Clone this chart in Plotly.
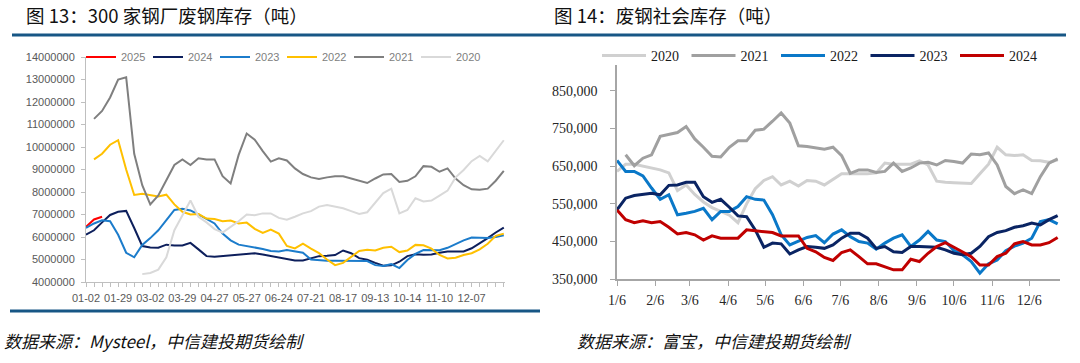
import pandas as pd
import plotly.graph_objects as go

W, H = 1080, 363

# ---------------- Left chart data (图13) ----------------
cats = ["01-02","01-09","01-16","01-22","01-29","02-05","02-12","02-23","03-02","03-09",
        "03-16","03-22","03-29","04-06","04-13","04-20","04-27","05-06","05-13","05-20",
        "05-27","06-03","06-10","06-17","06-24","06-30","07-07","07-14","07-21","07-28",
        "08-04","08-10","08-17","08-24","08-31","09-06","09-13","09-20","09-27","10-08",
        "10-14","10-21","10-27","11-03","11-10","11-17","11-24","11-30","12-07","12-14",
        "12-21","12-25","12-29"]
tick_labels = ["01-02", "01-29", "03-02", "03-29", "04-27", "05-27", "06-24",
               "07-21", "08-17", "09-13", "10-14", "11-10", "12-07"]

s2025 = [6450000, 6780000, 6900000]
s2024 = [6100000, 6300000, 6650000, 6980000, 7120000, 7160000, 6400000, 5600000, 5530000, 5520000,
         5660000, 5620000, 5620000, 5740000, 5450000, 5150000, 5120000, 5150000, 5170000, 5220000,
         5260000, 5280000, 5220000, 5150000, 5070000, 5000000, 4960000, 4960000, 5050000, 5150000,
         5170000, 5200000, 5400000, 5280000, 5060000, 4990000, 4850000, 4720000, 4740000, 4900000,
         5150000, 5230000, 5210000, 5220000, 5300000, 5360000, 5360000, 5360000, 5500000, 5720000,
         5950000, 6200000, 6420000]
s2023 = [6400000, 6600000, 6740000, 6700000, 6100000, 5300000, 5100000, 5650000, 5950000, 6300000,
         6750000, 7200000, 7260000, 7180000, 7000000, 6800000, 6600000, 6150000, 5850000, 5660000,
         5600000, 5550000, 5470000, 5380000, 5360000, 5420000, 5350000, 5300000, 5000000, 4960000,
         4950000, 4950000, 4950000, 4950000, 4950000, 4930000, 4750000, 4710000, 4800000, 4620000,
         4980000, 5250000, 5420000, 5430000, 5410000, 5520000, 5700000, 5850000, 5980000, 5980000,
         5960000, 6000000, 6080000]
s2022 = [None, 9450000, 9700000, 10100000, 10300000, 9000000, 7870000, 7920000, 7850000, 7800000,
         7880000, 7450000, 7120000, 7000000, 7020000, 6820000, 6800000, 6700000, 6730000, 6600000,
         6640000, 6360000, 6180000, 6330000, 6150000, 5600000, 5490000, 5700000, 5480000, 5280000,
         5000000, 4750000, 4850000, 5120000, 5380000, 5430000, 5400000, 5520000, 5570000, 5330000,
         5400000, 5650000, 5630000, 5480000, 5200000, 5050000, 5080000, 5200000, 5280000, 5450000,
         5700000, 6050000, 6150000]
s2021 = [None, 11250000, 11600000, 12200000, 13000000, 13100000, 9700000, 8300000, 7450000, 7850000,
         8550000, 9200000, 9450000, 9200000, 9500000, 9450000, 9450000, 8700000, 8380000, 9650000,
         10600000, 10330000, 9820000, 9350000, 9500000, 9400000, 9050000, 8800000, 8650000, 8580000,
         8650000, 8700000, 8700000, 8600000, 8520000, 8400000, 8600000, 8780000, 8800000, 8450000,
         8500000, 8700000, 9150000, 9120000, 8900000, 9050000, 8600000, 8300000, 8120000, 8100000,
         8150000, 8500000, 8940000]
s2020 = [None, None, None, None, None, None, None, 4350000, 4400000, 4550000,
         5100000, 6300000, 6950000, 7620000, 6900000, 6650000, 6350000, 6200000, 6450000, 6700000,
         7000000, 6970000, 7050000, 7050000, 6850000, 6770000, 6900000, 7050000, 7150000, 7350000,
         7420000, 7350000, 7280000, 7150000, 7020000, 7100000, 7550000, 7950000, 8150000, 7050000,
         7200000, 7720000, 7580000, 7620000, 7840000, 8060000, 8650000, 8980000, 9370000, 9600000,
         9360000, 9820000, 10300000]

left_series = [("2025", s2025, "#FF0000"), ("2024", s2024, "#0D1F5C"), ("2023", s2023, "#1C7CCB"),
               ("2022", s2022, "#FFC000"), ("2021", s2021, "#7F7F7F"), ("2020", s2020, "#D9D9D9")]

# ---------------- Right chart data (图14) ----------------
weeks = pd.date_range("2023-01-06", periods=52, freq="7D")
month_ticks = ["2023-%02d-06" % m for m in range(1, 13)]
month_labels = ["1/6", "2/6", "3/6", "4/6", "5/6", "6/6", "7/6", "8/6", "9/6", "10/6", "11/6", "12/6"]

r2020 = [636000, 655000, 655000, 650000, 643000, 640000, 632000, 585000, 600000, 575000, 555000,
         540000, 530000, 520000, 500000, 550000, 590000, 612000, 622000, 600000, 610000, 597000,
         612000, 610000, 600000, 615000, 630000, 630000, 630000, 630000, 632000, 658000, 655000,
         655000, 655000, 664000, 653000, 610000, 607000, 606000, 605000, 604000, 630000, 655000,
         700000, 680000, 678000, 680000, 665000, 664000, 660000, 667000]
r2021 = [None, 680000, 651000, 671000, 680000, 729000, 733000, 739000, 755000, 722000, 700000,
         676000, 674000, 700000, 717000, 717000, 745000, 748000, 769000, 791000, 764000, 704000,
         702000, 698000, 695000, 700000, 678000, 631000, 640000, 640000, 633000, 636000, 658000,
         636000, 645000, 658000, 660000, 653000, 665000, 662000, 658000, 682000, 680000, 685000,
         653000, 596000, 577000, 587000, 577000, 622000, 658000, 669000]
r2022 = [665000, 636000, 636000, 624000, 592000, 562000, 574000, 521000, 525000, 530000, 538000,
         508000, 530000, 530000, 543000, 569000, 562000, 560000, 521000, 468000, 441000, 450000,
         461000, 466000, 447000, 470000, 481000, 463000, 450000, 446000, 430000, 446000, 459000,
         468000, 437000, 454000, 477000, 454000, 450000, 426000, 415000, 397000, 366000, 391000,
         401000, 426000, 438000, 446000, 459000, 503000, 508000, 497000]
r2023 = [534000, 565000, 572000, 575000, 578000, 574000, 599000, 600000, 607000, 607000, 569000,
         554000, 562000, 541000, 518000, 516000, 481000, 435000, 446000, 444000, 417000, 428000,
         437000, 435000, 432000, 441000, 459000, 472000, 472000, 459000, 432000, 437000, 423000,
         421000, 437000, 437000, 437000, 435000, 428000, 419000, 415000, 419000, 437000, 463000,
         474000, 479000, 488000, 492000, 499000, 494000, 508000, 519000]
r2024 = [534000, 508000, 500000, 505000, 500000, 503000, 488000, 470000, 474000, 468000, 454000,
         465000, 459000, 459000, 459000, 481000, 479000, 476000, 474000, 465000, 465000, 465000,
         432000, 423000, 408000, 400000, 421000, 428000, 410000, 391000, 391000, 382000, 375000,
         375000, 403000, 397000, 419000, 437000, 447000, 435000, 423000, 410000, 388000, 388000,
         410000, 419000, 444000, 450000, 441000, 441000, 447000, 461000]

right_series = [("2020", r2020, "#D0D0D0"), ("2021", r2021, "#A0A0A0"), ("2022", r2022, "#0A78C8"),
                ("2023", r2023, "#0A2463"), ("2024", r2024, "#C00000")]

# ---------------- helpers ----------------
def px_x(p):
    return p / W

def px_y(p):
    return 1 - p / H

fig = go.Figure()

for name, vals, col in left_series:
    fig.add_trace(go.Scatter(x=cats[:len(vals)], y=vals, name=name, mode="lines",
                             line=dict(color=col, width=2), xaxis="x", yaxis="y",
                             legend="legend", connectgaps=False, hoverinfo="skip"))

for name, vals, col in right_series:
    fig.add_trace(go.Scatter(x=weeks[:len(vals)], y=vals, name=name, mode="lines",
                             line=dict(color=col, width=3), xaxis="x2", yaxis="y2",
                             legend="legend2", hoverinfo="skip"))

left_font = dict(family="Liberation Sans, Arial", size=11, color="#595959")
right_font = dict(family="Liberation Serif, Times New Roman", size=14, color="#262626")

fig.update_layout(
    width=W, height=H,
    margin=dict(l=0, r=0, t=0, b=0, autoexpand=False),
    paper_bgcolor="white", plot_bgcolor="white",
    xaxis=dict(type="category", domain=[px_x(86), px_x(505)], range=[0, 52.15],
               tickmode="array", tickvals=cats,
               ticktext=[c if c in tick_labels else "" for c in cats],
               showline=True, linecolor="#BFBFBF", linewidth=1,
               ticks="outside", ticklen=4, tickcolor="#BFBFBF", tickwidth=1,
               showgrid=False, zeroline=False, tickangle=0, tickfont=left_font,
               anchor="y", ticklabelstandoff=2),
    yaxis=dict(domain=[px_y(282), px_y(57)], range=[4000000, 14000000], dtick=1000000,
               tickformat="d", showline=True, linecolor="#BFBFBF", linewidth=1,
               ticks="outside", ticklen=4, tickcolor="#BFBFBF",
               showgrid=False, zeroline=False, tickfont=left_font, anchor="x",
               ticklabelstandoff=4),
    xaxis2=dict(type="date", domain=[px_x(617), px_x(1059.5)],
                range=["2023-01-06", "2023-12-30 12:00"],
                tickmode="array", tickvals=month_ticks, ticktext=month_labels,
                showline=True, linecolor="#A6A6A6", linewidth=1.5,
                ticks="outside", ticklen=5, tickcolor="#A6A6A6",
                showgrid=False, zeroline=False, tickfont=right_font, anchor="y2",
                ticklabelstandoff=2),
    yaxis2=dict(domain=[px_y(279.3), px_y(65)], range=[350000, 918000],
                tick0=350000, dtick=100000, tickformat=",d",
                showline=True, linecolor="#A6A6A6", linewidth=1.5,
                ticks="outside", ticklen=5, tickcolor="#A6A6A6",
                showgrid=False, zeroline=False, tickfont=right_font, anchor="x2",
                ticklabelstandoff=10),
    legend=dict(orientation="h", x=px_x(81), y=px_y(57), xanchor="left", yanchor="middle",
                entrywidth=22, entrywidthmode="pixels", itemwidth=30,
                font=dict(family="Liberation Sans, Arial", size=11, color="#808080"),
                bgcolor="rgba(0,0,0,0)", borderwidth=0, tracegroupgap=0,
                itemclick=False, itemdoubleclick=False),
    legend2=dict(orientation="h", x=px_x(597), y=px_y(56), xanchor="left", yanchor="middle",
                 entrywidth=30.5, entrywidthmode="pixels", itemwidth=44,
                 font=dict(family="Liberation Serif, Times New Roman", size=14, color="#1a1a1a"),
                 bgcolor="rgba(0,0,0,0)", borderwidth=0, tracegroupgap=0,
                 itemclick=False, itemdoubleclick=False),
    showlegend=True,
)

title_font = dict(family="Noto Sans CJK SC", size=18.5, color="#111111")
src_font = dict(family="Noto Sans CJK SC", size=17, color="#111111", style="italic")

annotations = [
    dict(text="图 13：300 家钢厂废钢库存（吨）", x=px_x(24), y=px_y(15), xanchor="left",
         yanchor="middle", showarrow=False, font=title_font, xref="paper", yref="paper"),
    dict(text="图 14：废钢社会库存（吨）", x=px_x(552), y=px_y(15), xanchor="left",
         yanchor="middle", showarrow=False, font=title_font, xref="paper", yref="paper"),
    dict(text="数据来源：Mysteel，中信建投期货绘制", x=px_x(2), y=px_y(340), xanchor="left",
         yanchor="middle", showarrow=False, font=src_font, xref="paper", yref="paper"),
    dict(text="数据来源：富宝，中信建投期货绘制", x=px_x(575), y=px_y(340), xanchor="left",
         yanchor="middle", showarrow=False, font=src_font, xref="paper", yref="paper"),
]
fig.update_layout(annotations=annotations)

rule = "#175685"
shapes = [
    dict(type="line", xref="paper", yref="paper", x0=px_x(12), x1=px_x(1066),
         y0=px_y(35), y1=px_y(35), line=dict(color=rule, width=3)),
    dict(type="line", xref="paper", yref="paper", x0=px_x(10), x1=px_x(540),
         y0=px_y(311), y1=px_y(311), line=dict(color=rule, width=3)),
]
fig.update_layout(shapes=shapes)

fig.write_html("out.html", config={"displayModeBar": False},
               post_script="document.body.style.margin='0px';document.body.style.overflow='hidden';")
